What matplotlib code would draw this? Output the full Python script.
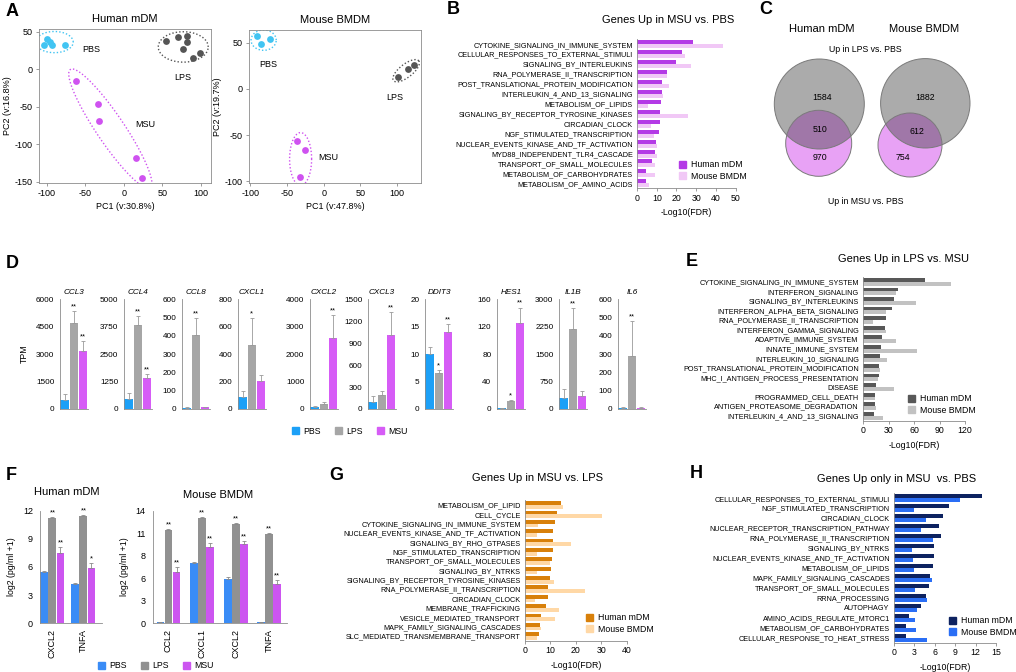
import numpy as np
import matplotlib
matplotlib.use('Agg')
import matplotlib.pyplot as plt
from matplotlib.patches import Circle, Patch

plt.rcParams['font.family'] = 'Liberation Sans'
plt.rcParams['axes.unicode_minus'] = False
plt.rcParams['axes.linewidth'] = 0.6
plt.rcParams['axes.edgecolor'] = '#8c8c8c'
plt.rcParams['xtick.major.width'] = 0.6
plt.rcParams['ytick.major.width'] = 0.6
plt.rcParams['xtick.color'] = '#8c8c8c'
plt.rcParams['ytick.color'] = '#8c8c8c'
plt.rcParams['xtick.labelcolor'] = 'black'
plt.rcParams['ytick.labelcolor'] = 'black'

# ---- A: PCA
hs_pca = {
    'PBS': ([-104, -100, -96, -93, -76], [33, 40, 36, 33, 33]),
    'LPS': ([55, 70, 82, 82, 77, 99, 90], [38, 43, 45, 37, 27, 22, 15]),
    'MSU': ([-62, -33, -32, 16, 24], [-16, -46, -69, -119, -145]),
}
mm_pca = {
    'PBS': ([-91, -86, -73], [57, 49, 54]),
    'LPS': ([102, 115, 124], [13, 22, 26]),
    'MSU': ([-37, -26, -32], [-56, -66, -96]),
}

# ---- B: Genes up in MSU vs PBS
b_terms = ['CYTOKINE_SIGNALING_IN_IMMUNE_SYSTEM', 'CELLULAR_RESPONSES_TO_EXTERNAL_STIMULI',
           'SIGNALING_BY_INTERLEUKINS', 'RNA_POLYMERASE_II_TRANSCRIPTION',
           'POST_TRANSLATIONAL_PROTEIN_MODIFICATION', 'INTERLEUKIN_4_AND_13_SIGNALING',
           'METABOLISM_OF_LIPIDS', 'SIGNALING_BY_RECEPTOR_TYROSINE_KINASES', 'CIRCADIAN_CLOCK',
           'NGF_STIMULATED_TRANSCRIPTION', 'NUCLEAR_EVENTS_KINASE_AND_TF_ACTIVATION',
           'MYD88_INDEPENDENT_TLR4_CASCADE', 'TRANSPORT_OF_SMALL_MOLECULES',
           'METABOLISM_OF_CARBOHYDRATES', 'METABOLISM_OF_AMINO_ACIDS']
b_human = [28.3, 22.7, 19.8, 15.1, 12.8, 12.8, 12.3, 11.8, 11.8, 11.1, 9.7, 8.9, 7.7, 4.7, 4.4]
b_mouse = [43.4, 24.4, 27.4, 15.1, 16.3, 13.3, 5.7, 25.7, 7.2, 8.7, 9.9, 10.1, 9.1, 9.1, 6.2]

# ---- C: Venn counts (LPS only, both, MSU only)
venn_human = [1584, 510, 970]
venn_mouse = [1882, 612, 754]

# ---- D: TPM
genes = ['CCL3', 'CCL4', 'CCL8', 'CXCL1', 'CXCL2', 'CXCL3', 'DDIT3', 'HES1', 'IL1B', 'IL6']
tpm_pbs = [500, 450, 8, 90, 70, 100, 10, 1.5, 300, 8]
tpm_lps = [4700, 3850, 405, 465, 200, 190, 6.5, 11, 2200, 290]
tpm_msu = [3150, 1400, 10, 205, 2580, 1010, 14.1, 125, 360, 8]
err_pbs = [300, 300, 3, 40, 30, 75, 1.3, 0.5, 250, 3]
err_lps = [650, 400, 90, 195, 50, 50, 0.6, 2, 550, 190]
err_msu = [550, 200, 3, 45, 850, 320, 1.4, 23, 130, 2]
tpm_max = [6000, 5000, 600, 800, 4000, 1500, 20, 160, 3000, 600]
tpm_step = [1500, 1250, 100, 200, 1000, 300, 5, 40, 750, 100]
sig_lps = ['**', '**', '**', '*', '', '', '*', '*', '**', '**']
sig_msu = ['**', '**', '', '', '**', '**', '**', '**', '', '']

# ---- E: Genes up in LPS vs MSU
e_terms = ['CYTOKINE_SIGNALING_IN_IMMUNE_SYSTEM', 'INTERFERON_SIGNALING', 'SIGNALING_BY_INTERLEUKINS',
           'INTERFERON_ALPHA_BETA_SIGNALING', 'RNA_POLYMERASE_II_TRANSCRIPTION',
           'INTERFERON_GAMMA_SIGNALING', 'ADAPTIVE_IMMUNE_SYSTEM', 'INNATE_IMMUNE_SYSTEM',
           'INTERLEUKIN_10_SIGNALING', 'POST_TRANSLATIONAL_PROTEIN_MODIFICATION',
           'MHC_I_ANTIGEN_PROCESS_PRESENTATION', 'DISEASE', 'PROGRAMMED_CELL_DEATH',
           'ANTIGEN_PROTEASOME_DEGRADATION', 'INTERLEUKIN_4_AND_13_SIGNALING']
e_human = [73.3, 41, 36, 34.5, 27.5, 25.9, 22, 20.8, 19.6, 18.4, 18.4, 14.9, 14.5, 13.7, 12.5]
e_mouse = [104, 38.4, 62, 27.5, 11.8, 26.7, 38.4, 63.5, 28.6, 20, 17.6, 36.5, 13.7, 15.7, 23.5]

# ---- F: cytokines log2(pg/ml + 1)
hs_cyt = ['CXCL2', 'TNFA']
hs_pbs = [5.5, 4.2]
hs_lps = [11.25, 11.45]
hs_msu = [7.45, 5.9]
hs_err = [[0.05, 0.1], [0.08, 0.08], [0.7, 0.5]]
hs_sig = [['', ''], ['**', '**'], ['**', '*']]
mm_cyt = ['CCL2', 'CXCL1', 'CXCL2', 'TNFA']
mm_pbs = [0.1, 7.55, 5.45, 0.1]
mm_lps = [11.6, 13.15, 12.4, 11.1]
mm_msu = [6.35, 9.5, 9.8, 4.9]
mm_err = [[0.02, 0.1, 0.3, 0.02], [0.08, 0.08, 0.08, 0.08], [0.65, 0.5, 0.4, 0.5]]
mm_sig = [['', '', '', ''], ['**'] * 4, ['**'] * 4]

# ---- G: Genes up in MSU vs LPS
g_terms = ['METABOLISM_OF_LIPID', 'CELL_CYCLE', 'CYTOKINE_SIGNALING_IN_IMMUNE_SYSTEM',
           'NUCLEAR_EVENTS_KINASE_AND_TF_ACTIVATION', 'SIGNALING_BY_RHO_GTPASES',
           'NGF_STIMULATED_TRANSCRIPTION', 'TRANSPORT_OF_SMALL_MOLECULES', 'SIGNALING_BY_NTRKS',
           'SIGNALING_BY_RECEPTOR_TYROSINE_KINASES', 'RNA_POLYMERASE_II_TRANSCRIPTION',
           'CIRCADIAN_CLOCK', 'MEMBRANE_TRAFFICKING', 'VESICLE_MEDIATED_TRANSPORT',
           'MAPK_FAMILY_SIGNALING_CASCADES', 'SLC_MEDIATED_TRANSMEMBRANE_TRANSPORT']
g_human = [14.0, 12.7, 11.8, 10.9, 10.9, 10.9, 10.7, 10.2, 9.7, 9.0, 8.9, 8.1, 6.2, 5.9, 5.6]
g_mouse = [14.8, 30.1, 5.2, 4.8, 18.0, 4.6, 9.8, 4.6, 11.3, 23.6, 3.9, 13.2, 11.7, 6.2, 4.7]

# ---- H: Genes up only in MSU vs PBS
h_terms = ['CELLULAR_RESPONSES_TO_EXTERNAL_STIMULI', 'NGF_STIMULATED_TRANSCRIPTION', 'CIRCADIAN_CLOCK',
           'NUCLEAR_RECEPTOR_TRANSCRIPTION_PATHWAY', 'RNA_POLYMERASE_II_TRANSCRIPTION',
           'SIGNALING_BY_NTRKS', 'NUCLEAR_EVENTS_KINASE_AND_TF_ACTIVATION', 'METABOLISM_OF_LIPIDS',
           'MAPK_FAMILY_SIGNALING_CASCADES', 'TRANSPORT_OF_SMALL_MOLECULES', 'RRNA_PROCESSING',
           'AUTOPHAGY', 'AMINO_ACIDS_REGULATE_MTORC1', 'METABOLISM_OF_CARBOHYDRATES',
           'CELLULAR_RESPONSE_TO_HEAT_STRESS']
h_human = [12.9, 8.15, 7.15, 6.65, 6.9, 5.9, 5.9, 5.75, 5.35, 5.2, 4.65, 3.9, 2.15, 1.8, 1.8]
h_mouse = [9.65, 3.0, 4.65, 3.9, 5.8, 2.65, 2.8, 3.0, 5.65, 3.1, 4.9, 3.4, 3.05, 3.3, 4.8]

W, H = 1016, 672
fig = plt.figure(figsize=(W / 100, H / 100), dpi=100)


def box(l, t, r, b):
    return fig.add_axes([l / W, 1 - b / H, (r - l) / W, (b - t) / H])


def ftext(x, y, s, **kw):
    fig.text(x / W, 1 - y / H, s, **kw)


for letter, x, y in [('A', 6, 12), ('B', 447, 10), ('C', 759, 10), ('D', 6, 264),
                     ('E', 686, 262), ('F', 6, 475), ('G', 329, 475), ('H', 690, 473)]:
    ftext(x, y, letter, fontsize=13, fontweight='bold', va='center')

# ---------------- A
pca_col = {'PBS': '#41c4f2', 'LPS': '#555555', 'MSU': '#cf52f0'}


def ring(ax, xs, ys, ang, pl, ps, color):
    bb = ax.get_position()
    x0, x1 = ax.get_xlim()
    y0, y1 = ax.get_ylim()
    sx = bb.width * W / (x1 - x0)
    sy = bb.height * H / (y1 - y0)
    u = np.array(xs) * sx
    v = np.array(ys) * sy
    t = np.deg2rad(ang)
    a = u * np.cos(t) + v * np.sin(t)
    b = -u * np.sin(t) + v * np.cos(t)
    ca, cb = (a.min() + a.max()) / 2, (b.min() + b.max()) / 2
    ra = (a.max() - a.min()) / 2 + pl
    rb = (b.max() - b.min()) / 2 + ps
    s = np.linspace(0, 2 * np.pi, 200)
    ea = ca + ra * np.cos(s)
    eb = cb + rb * np.sin(s)
    ax.plot((ea * np.cos(t) - eb * np.sin(t)) / sx, (ea * np.sin(t) + eb * np.cos(t)) / sy,
            ls=(0, (1, 1.5)), color=color, lw=1.0)


def pca(ax, groups, xlim, ylim, yt, title, xl, yl, rings, labels):
    ax.set_xlim(xlim)
    ax.set_ylim(ylim)
    for k, (xs, ys) in groups.items():
        ax.scatter(xs, ys, s=24, color=pca_col[k], zorder=3, linewidths=0)
        ring(ax, xs, ys, *rings[k], pca_col[k])
        ax.text(*labels[k], k, fontsize=6.5, ha='center', va='center')
    ax.set_xticks([-100, -50, 0, 50, 100])
    ax.set_yticks(yt)
    ax.tick_params(labelsize=6.5, length=2.5, pad=2)
    ax.set_title(title, fontsize=8, pad=5)
    ax.set_xlabel(xl, fontsize=6.5, labelpad=3)
    ax.set_ylabel(yl, fontsize=6.5, labelpad=2)


ax = box(39, 29, 211, 183)
pca(ax, hs_pca, (-110, 113), (-152, 54), [-150, -100, -50, 0, 50], 'Human mDM',
    'PC1 (v:30.8%)', 'PC2 (v:16.8%)',
    {'PBS': (0, 8, 8), 'LPS': (0, 8, 4), 'MSU': (-56, 13, 9)},
    {'PBS': (-42, 26), 'LPS': (76, -11), 'MSU': (28, -74)})
ax = box(249, 30, 421, 183)
pca(ax, mm_pca, (-102, 133), (-102, 64), [-100, -50, 0, 50], 'Mouse BMDM',
    'PC1 (v:47.8%)', 'PC2 (v:19.7%)',
    {'PBS': (0, 6, 6.5), 'LPS': (38, 6, 6), 'MSU': (0, 7, 8)},
    {'PBS': (-76, 27), 'LPS': (97, -9), 'MSU': (6, -74)})


# ---------------- enrichment bars
def enrich(box_px, terms, human, mouse, ch, cm, xmax, xt, title, txy, lxy):
    ax = box(*box_px)
    y = np.arange(len(terms))
    ax.barh(y - 0.2, human, height=0.4, color=ch)
    ax.barh(y + 0.2, mouse, height=0.4, color=cm)
    ax.set_ylim(len(terms) - 0.5, -0.5)
    ax.set_yticks(y, terms, fontsize=5.2)
    ax.tick_params(axis='y', length=0, pad=3)
    ax.set_xlim(0, xmax)
    ax.set_xticks(xt)
    ax.tick_params(axis='x', labelsize=6.3, length=2, pad=2)
    for s in ['top', 'right']:
        ax.spines[s].set_visible(False)
    ax.set_xlabel('-Log10(FDR)', fontsize=6.3, labelpad=4)
    ftext(*txy, title, fontsize=8, ha='center', va='center')
    fig.legend([Patch(color=ch), Patch(color=cm)], ['Human mDM', 'Mouse BMDM'],
               loc='upper left', bbox_to_anchor=(lxy[0] / W, 1 - lxy[1] / H), frameon=False,
               fontsize=6.3, handlelength=0.8, handleheight=0.8, handletextpad=0.5,
               labelspacing=0.25, borderpad=0)
    return ax


enrich((637, 39.3, 735.7, 188.3), b_terms, b_human, b_mouse, '#b43ae6', '#f1c8f6', 50,
       [0, 10, 20, 30, 40, 50], 'Genes Up in MSU vs. PBS', (668, 20), (675, 156))
enrich((863, 277, 965, 420.5), e_terms, e_human, e_mouse, '#585858', '#c2c2c2', 120,
       [0, 30, 60, 90, 120], 'Genes Up in LPS vs. MSU', (903, 259), (904, 390))
enrich((525, 500.3, 626.7, 640.7), g_terms, g_human, g_mouse, '#d8800a', '#ffd8a6', 40,
       [0, 10, 20, 30, 40], 'Genes Up in MSU vs. LPS', (537, 478), (582, 609))
enrich((894, 493.3, 996, 642.7), h_terms, h_human, h_mouse, '#0d2260', '#2a6ef5', 15,
       [0, 3, 6, 9, 12, 15], 'Genes Up only in MSU  vs. PBS', (897, 479), (945, 612))

# ---------------- C: Venn
ax = box(760, 20, 1010, 215)
ax.set_xlim(760, 1010)
ax.set_ylim(215, 20)
ax.axis('off')
for counts, gc, pc, pos in [
        (venn_human, (819.3, 104, 45), (818.7, 143.3, 33), [(822, 97), (820, 130), (820, 158)]),
        (venn_mouse, (925.3, 103.3, 44.7), (910, 145, 32), [(925, 98), (917, 132), (903, 157)])]:
    gcirc = Circle(gc[:2], gc[2], facecolor='#ababab', edgecolor='none')
    ax.add_patch(gcirc)
    ax.add_patch(Circle(pc[:2], pc[2], facecolor='#e8a2f5', edgecolor='none'))
    ov = Circle(pc[:2], pc[2], facecolor='#a077a8', edgecolor='none')
    ax.add_patch(ov)
    ov.set_clip_path(gcirc)
    ax.add_patch(Circle(gc[:2], gc[2], facecolor='none', edgecolor='#7a7a7a', lw=0.7))
    ax.add_patch(Circle(pc[:2], pc[2], facecolor='none', edgecolor='#7a7a7a', lw=0.7))
    for n, (x, y) in zip(counts, pos):
        ax.text(x, y, str(n), fontsize=6.3, ha='center', va='center')
ftext(822, 29, 'Human mDM', fontsize=8, ha='center', va='center')
ftext(924, 29, 'Mouse BMDM', fontsize=8, ha='center', va='center')
ftext(865, 49, 'Up in LPS vs. PBS', fontsize=6.3, ha='center', va='center')
ftext(866, 202, 'Up in MSU vs. PBS', fontsize=6.3, ha='center', va='center')

# ---------------- D: TPM bars
d_col = ['#1ca0f7', '#a6a6a6', '#d65cf6']
d_left = [60, 124, 182, 238, 310, 368, 425, 497, 559, 618]
for i, g in enumerate(genes):
    ax = box(d_left[i], 299.3, d_left[i] + 28, 409)
    vals = [tpm_pbs[i], tpm_lps[i], tpm_msu[i]]
    errs = [err_pbs[i], err_lps[i], err_msu[i]]
    ax.bar(range(3), vals, width=0.92, color=d_col)
    ax.errorbar(range(3), vals, yerr=[[0, 0, 0], errs], fmt='none', ecolor='#9a9a9a',
                elinewidth=0.6, capsize=1.2, capthick=0.6)
    for j, s in [(1, sig_lps[i]), (2, sig_msu[i])]:
        if s:
            ax.annotate(s, (j, vals[j] + errs[j]), xytext=(0, 0.5), textcoords='offset points',
                        ha='center', va='bottom', fontsize=5.5)
    ax.set_xlim(-0.5, 2.55)
    ax.set_ylim(0, tpm_max[i])
    ax.set_yticks(np.arange(0, tpm_max[i] + 1, tpm_step[i]))
    ax.set_xticks([])
    ax.tick_params(axis='y', labelsize=5.9, length=0, pad=4)
    for s in ['top', 'right']:
        ax.spines[s].set_visible(False)
    ax.set_title(g, fontsize=5.9, style='italic', pad=4)
    if i == 0:
        ax.set_ylabel('TPM', fontsize=6.3, labelpad=5)
fig.legend([Patch(color=c) for c in d_col], ['PBS', 'LPS', 'MSU'], loc='center left',
           bbox_to_anchor=(288 / W, 1 - 431 / H), ncol=3, frameon=False, fontsize=6.3,
           handlelength=0.8, handleheight=0.8, handletextpad=0.5, columnspacing=1.6, borderpad=0)

# ---------------- F: cytokines
f_col = ['#3a8cf6', '#919191', '#cc55f0']


def cyto(box_px, cats, groups, errs, sigs, w, xlim, ymax, title, txy, ylabel_pad):
    ax = box(*box_px)
    x = np.arange(len(cats))
    for k in range(3):
        ax.bar(x + (k - 1) * w, groups[k], width=w * 0.97, color=f_col[k])
        ax.errorbar(x + (k - 1) * w, groups[k], yerr=[np.zeros(len(cats)), errs[k]], fmt='none',
                    ecolor='#8a8a8a', elinewidth=0.6, capsize=1.2, capthick=0.6)
        for j in range(len(cats)):
            if sigs[k][j]:
                ax.annotate(sigs[k][j], (x[j] + (k - 1) * w, groups[k][j] + errs[k][j]),
                            xytext=(0, 0.5), textcoords='offset points', ha='center',
                            va='bottom', fontsize=5.5)
    ax.set_xlim(xlim)
    ax.set_ylim(0, ymax)
    ticks = np.linspace(0, ymax, 5 if ymax == 12 else 6)
    ax.set_yticks(ticks, [f'{t:.0f}' for t in ticks])
    ax.set_xticks(x, cats, rotation=90)
    ax.tick_params(axis='x', length=0, labelsize=6.5, pad=4)
    ax.tick_params(axis='y', length=0, labelsize=6.5, pad=5)
    for s in ['top', 'right']:
        ax.spines[s].set_visible(False)
    ax.set_ylabel('log2 (pg/ml +1)', fontsize=6.3, labelpad=ylabel_pad)
    ftext(*txy, title, fontsize=8, ha='center', va='center')


cyto((40, 510.7, 101.7, 623.3), hs_cyt, [hs_pbs, hs_lps, hs_msu], hs_err, hs_sig, 0.26,
     (-0.40, 1.59), 12, 'Human mDM', (67, 492), 5)
cyto((152.7, 510.7, 286.7, 623.3), mm_cyt, [mm_pbs, mm_lps, mm_msu], mm_err, mm_sig, 0.24,
     (-0.47, 3.52), 14, 'Mouse BMDM', (218, 495), 5)
fig.legend([Patch(color=c) for c in f_col], ['PBS', 'LPS', 'MSU'], loc='center left',
           bbox_to_anchor=(94 / W, 1 - 666 / H), ncol=3, frameon=False, fontsize=6.3,
           handlelength=0.8, handleheight=0.8, handletextpad=0.5, columnspacing=1.6, borderpad=0)

fig.savefig('out.png', dpi=100)
